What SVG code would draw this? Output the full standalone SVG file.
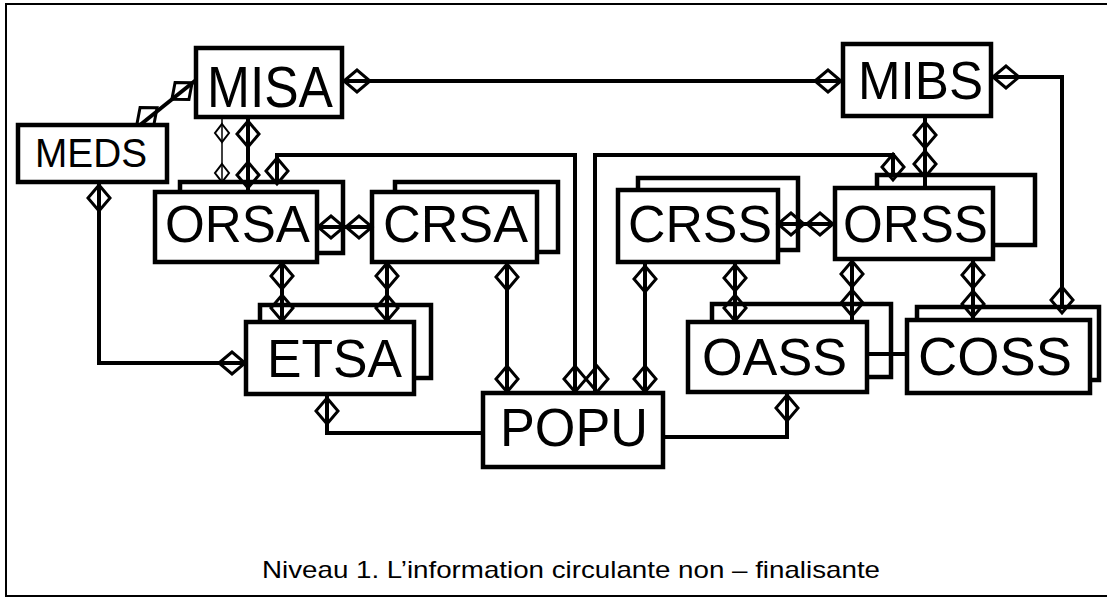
<svg xmlns="http://www.w3.org/2000/svg" xmlns:xlink="http://www.w3.org/1999/xlink" width="1107" height="603" viewBox="0 0 1107 603">
<style>
.box{fill:#fff;stroke:#000;stroke-width:4.5}
.lbl{font-family:"Liberation Sans",Arial,Helvetica,sans-serif;fill:#000}
.ln{fill:none;stroke:#000;stroke-width:4}
.thin{fill:none;stroke:#000;stroke-width:1.5}
.frame{fill:none;stroke:#000;stroke-width:2}
</style>
<defs>
<path id="dv" d="M0,-13 L11,0 L0,13 L-11,0 Z" fill="none" stroke="#000" stroke-width="3"/>
<path id="dh" d="M-13,0 L0,-11 L13,0 L0,11 Z" fill="none" stroke="#000" stroke-width="3"/>
<path id="ds" d="M0,-9 L7,0 L0,9 L-7,0 Z" fill="none" stroke="#000" stroke-width="2"/>
</defs>
<rect width="1107" height="603" fill="#fff"/>
<path class="frame" d="M1107,4 H6 V596 H1107"/>

<g id="MISA"><rect class="box" x="196" y="48" width="146" height="69"/><text class="lbl" x="207" y="107" font-size="57" textLength="126" lengthAdjust="spacingAndGlyphs">MISA</text></g>
<g id="MEDS"><rect class="box" x="18" y="125" width="149" height="57"/><text class="lbl" x="35" y="167" font-size="40" textLength="112" lengthAdjust="spacingAndGlyphs">MEDS</text></g>
<g id="MIBS"><rect class="box" x="843" y="44" width="148" height="72"/><text class="lbl" x="858" y="99" font-size="54" textLength="125" lengthAdjust="spacingAndGlyphs">MIBS</text></g>
<g id="ORSA"><rect class="box" x="180" y="182" width="163" height="71"/><rect class="box" x="155" y="192" width="162" height="70"/><text class="lbl" x="165" y="242" font-size="52" textLength="145" lengthAdjust="spacingAndGlyphs">ORSA</text></g>
<g id="CRSA"><rect class="box" x="395" y="182" width="163" height="70"/><rect class="box" x="372" y="192" width="165" height="70"/><text class="lbl" x="383" y="242" font-size="52" textLength="145" lengthAdjust="spacingAndGlyphs">CRSA</text></g>
<g id="ETSA"><rect class="box" x="260" y="305" width="171" height="73"/><rect class="box" x="246" y="322" width="168" height="72"/><text class="lbl" x="267" y="377" font-size="54" textLength="135" lengthAdjust="spacingAndGlyphs">ETSA</text></g>
<g id="POPU"><rect class="box" x="483" y="393" width="180" height="74"/><text class="lbl" x="500" y="446" font-size="54" textLength="148" lengthAdjust="spacingAndGlyphs">POPU</text></g>
<g id="CRSS"><rect class="box" x="638" y="178" width="160" height="72"/><rect class="box" x="618" y="190" width="160" height="72"/><text class="lbl" x="628" y="242" font-size="52" textLength="144" lengthAdjust="spacingAndGlyphs">CRSS</text></g>
<g id="ORSS"><rect class="box" x="877" y="175" width="158" height="70"/><rect class="box" x="835" y="188" width="158" height="71"/><text class="lbl" x="843" y="242" font-size="52" textLength="145" lengthAdjust="spacingAndGlyphs">ORSS</text></g>
<g id="OASS"><rect class="box" x="712" y="304" width="179" height="73"/><rect class="box" x="688" y="322" width="179" height="70"/><text class="lbl" x="702" y="375" font-size="52" textLength="145" lengthAdjust="spacingAndGlyphs">OASS</text></g>
<g id="COSS"><rect class="box" x="917" y="307" width="182" height="73"/><rect class="box" x="907" y="320" width="183" height="73"/><text class="lbl" x="918" y="375" font-size="54" textLength="154" lengthAdjust="spacingAndGlyphs">COSS</text></g>

<g id="connectors">
<line class="ln" x1="140" y1="125" x2="196" y2="80"/>
<use href="#dh" transform="translate(147,116) rotate(-39)"/>
<use href="#dh" transform="translate(182,91) rotate(-39)"/>
<line class="ln" x1="342" y1="81" x2="843" y2="81"/>
<use href="#dh" x="357" y="81"/><use href="#dh" x="828" y="81"/>
<line class="thin" x1="222" y1="117" x2="222" y2="182"/>
<use href="#ds" x="222" y="133"/><use href="#ds" x="222" y="173"/>
<line class="ln" x1="248" y1="117" x2="248" y2="192"/>
<use href="#dv" x="248" y="134"/><use href="#dv" x="248" y="175"/>
<path class="ln" d="M277,182 V155 H575 V393"/>
<use href="#dv" x="277" y="171"/><use href="#dv" x="575" y="379"/>
<path class="ln" d="M595,393 V155 H893 V175"/>
<use href="#dv" x="597" y="379"/><use href="#dv" x="893" y="167"/>
<line class="ln" x1="925" y1="116" x2="925" y2="188"/>
<use href="#dv" x="925" y="135"/><use href="#dv" x="925" y="164"/>
<path class="ln" d="M991,77 H1062 V307"/>
<use href="#dh" x="1006" y="77"/><use href="#dv" x="1062" y="300"/>
<line class="ln" x1="317" y1="227" x2="372" y2="227"/>
<use href="#dh" x="331" y="227"/><use href="#dh" x="359" y="227"/>
<line class="ln" x1="282" y1="262" x2="282" y2="322"/>
<use href="#dv" x="282" y="276"/><use href="#dv" x="282" y="308"/>
<line class="ln" x1="387" y1="262" x2="387" y2="322"/>
<use href="#dv" x="387" y="276"/><use href="#dv" x="387" y="308"/>
<path class="ln" d="M99,182 V363 H246"/>
<use href="#dv" x="99" y="198"/><use href="#dh" x="232" y="363"/>
<path class="ln" d="M327,394 V433 H483"/>
<use href="#dv" x="327" y="411"/>
<line class="ln" x1="507" y1="262" x2="507" y2="393"/>
<use href="#dv" x="507" y="277"/><use href="#dv" x="507" y="379"/>
<line class="ln" x1="645" y1="262" x2="645" y2="393"/>
<use href="#dv" x="645" y="279"/><use href="#dv" x="645" y="379"/>
<line class="ln" x1="778" y1="224" x2="835" y2="224"/>
<use href="#dh" x="791" y="224"/><use href="#dh" x="820" y="224"/>
<line class="ln" x1="735" y1="262" x2="735" y2="322"/>
<use href="#dv" x="735" y="278"/><use href="#dv" x="735" y="308"/>
<line class="ln" x1="852" y1="259" x2="852" y2="322"/>
<use href="#dv" x="852" y="274"/><use href="#dv" x="852" y="303"/>
<line class="ln" x1="973" y1="259" x2="973" y2="320"/>
<use href="#dv" x="973" y="275"/><use href="#dv" x="973" y="304"/>
<path class="ln" d="M787,392 V437 H663"/>
<use href="#dv" x="787" y="408"/>
<line class="ln" x1="867" y1="354" x2="907" y2="354"/>
</g>

<text class="lbl" x="262" y="578" font-size="24" textLength="618" lengthAdjust="spacingAndGlyphs">Niveau 1. L’information circulante non – finalisante</text>
</svg>
